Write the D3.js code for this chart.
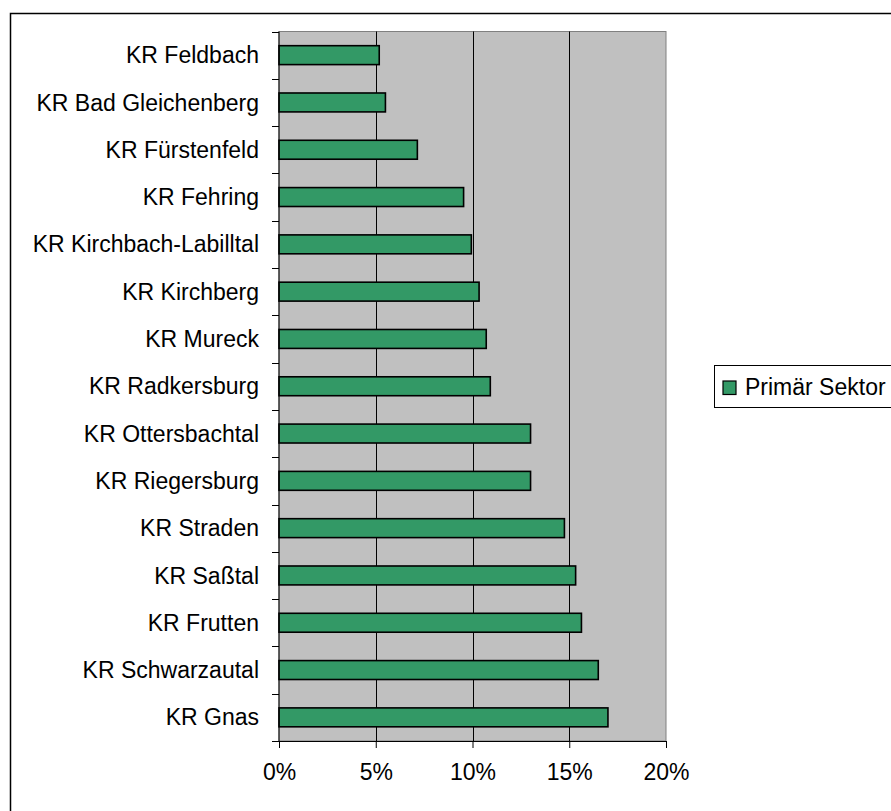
<!DOCTYPE html>
<html>
<head>
<meta charset="utf-8">
<script src="https://cdn.jsdelivr.net/npm/d3@7"></script>
<style>
  html, body { margin: 0; padding: 0; background: #fff; overflow: hidden; }
  svg { display: block; }
  text { font-family: "Liberation Sans", Arial, sans-serif; fill: #000; }
</style>
</head>
<body>
<svg id="chart" width="891" height="811"></svg>
<script>
const categories = [
  "KR Feldbach", "KR Bad Gleichenberg", "KR Fürstenfeld", "KR Fehring",
  "KR Kirchbach-Labilltal", "KR Kirchberg", "KR Mureck", "KR Radkersburg",
  "KR Ottersbachtal", "KR Riegersburg", "KR Straden", "KR Saßtal",
  "KR Frutten", "KR Schwarzautal", "KR Gnas"
];
const primaerSektor = [
  0.0518, 0.055, 0.0715, 0.0954, 0.0994, 0.1034, 0.1071, 0.1092,
  0.130, 0.130, 0.1475, 0.1533, 0.1563, 0.165, 0.170
];
const xTicks = [0, 0.05, 0.10, 0.15, 0.20];
const seriesName = "Primär Sektor";

const svg = d3.select("#chart");
const plot = { left: 279, right: 666, top: 31.5, bottom: 741 };
const fontSize = 23;

// outer frame (extends beyond the viewport on right and bottom)
svg.append("rect")
  .attr("x", 10.5).attr("y", 13.5)
  .attr("width", 900).attr("height", 820)
  .attr("fill", "#fff").attr("stroke", "#000").attr("stroke-width", 1.5);

const x = d3.scaleLinear().domain([0, 0.20]).range([plot.left, plot.right]);
const y = d3.scaleBand().domain(categories).range([plot.top, plot.bottom])
  .paddingInner(0.6).paddingOuter(0.3);

// plot background
svg.append("rect")
  .attr("x", plot.left).attr("y", plot.top)
  .attr("width", plot.right - plot.left).attr("height", plot.bottom - plot.top)
  .attr("fill", "#C0C0C0").attr("stroke", "#808080").attr("stroke-width", 1);

// gridlines
svg.append("g").selectAll("line")
  .data(xTicks.filter(d => d > 0 && d < 0.20))
  .join("line")
  .attr("x1", d => Math.round(x(d)) + 0.5).attr("x2", d => Math.round(x(d)) + 0.5)
  .attr("y1", plot.top).attr("y2", plot.bottom)
  .attr("stroke", "#000").attr("stroke-width", 1);

// bars
svg.append("g").selectAll("rect")
  .data(categories.map((c, i) => ({ c, v: primaerSektor[i] })))
  .join("rect")
  .attr("x", x(0))
  .attr("y", d => y(d.c))
  .attr("width", d => x(d.v) - x(0))
  .attr("height", y.bandwidth())
  .attr("fill", "#339966")
  .attr("stroke", "#000")
  .attr("stroke-width", 1.6);

// x axis
const xAxis = d3.axisBottom(x).tickValues(xTicks)
  .tickFormat(d3.format(".0%")).tickSizeInner(7).tickSizeOuter(0).tickPadding(16);
const gx = svg.append("g").attr("transform", `translate(0,${plot.bottom})`).call(xAxis);
gx.select(".domain").attr("stroke", "#000");
gx.selectAll(".tick line").attr("stroke", "#000");
gx.selectAll("text").style("font-size", fontSize + "px")
  .style("font-family", '"Liberation Sans", Arial, sans-serif').attr("fill", "#000");

// y axis: ticks at band boundaries
const boundaries = d3.range(categories.length + 1).map(i => plot.top + i * (plot.bottom - plot.top) / categories.length);
const gy = svg.append("g");
gy.append("line").attr("x1", plot.left).attr("x2", plot.left)
  .attr("y1", plot.top).attr("y2", plot.bottom).attr("stroke", "#000");
gy.selectAll("line.tk").data(boundaries).join("line").attr("class", "tk")
  .attr("x1", plot.left - 7).attr("x2", plot.left)
  .attr("y1", d => Math.round(d) + 0.5).attr("y2", d => Math.round(d) + 0.5)
  .attr("stroke", "#000");
gy.selectAll("text").data(categories).join("text")
  .attr("x", plot.left - 20)
  .attr("y", d => y(d) + y.bandwidth() / 2)
  .attr("dy", "0.35em")
  .attr("text-anchor", "end")
  .style("font-size", fontSize + "px")
  .text(d => d);

// legend
const lg = svg.append("g");
lg.append("rect").attr("x", 714.5).attr("y", 365.5).attr("width", 200).attr("height", 42)
  .attr("fill", "#fff").attr("stroke", "#000").attr("stroke-width", 1);
lg.append("rect").attr("x", 723).attr("y", 381).attr("width", 13).attr("height", 13.5)
  .attr("fill", "#339966").attr("stroke", "#000").attr("stroke-width", 1.2);
lg.append("text").attr("x", 745).attr("y", 387).attr("dy", "0.35em")
  .style("font-size", fontSize + "px").text(seriesName);
</script>
</body>
</html>
